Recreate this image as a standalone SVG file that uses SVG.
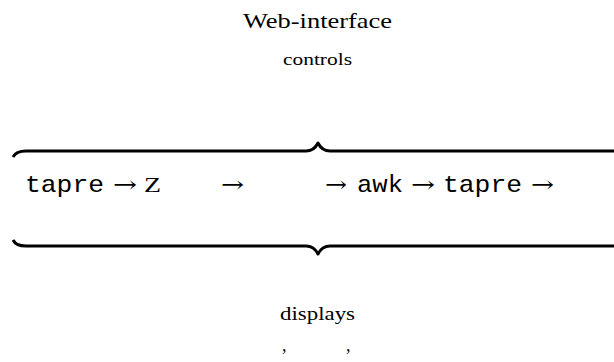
<svg xmlns="http://www.w3.org/2000/svg" width="614" height="362" viewBox="0 0 614 362">
<style>
.serif{font-family:"Liberation Serif","DejaVu Serif",serif;fill:#000}
.mono{font-family:"Liberation Mono","DejaVu Sans Mono",monospace;font-size:24px;fill:#000}
.arr{font-family:"DejaVu Serif","Liberation Serif",serif;font-size:22px;fill:#000}
.brace{fill:none;stroke:#000;stroke-width:3;stroke-linecap:butt;stroke-linejoin:round}
</style>
<rect width="614" height="362" fill="#fff"/>
<g id="title">
<text class="serif" x="317.5" y="28" font-size="22" text-anchor="middle" textLength="149" lengthAdjust="spacingAndGlyphs">Web-interface</text>
<text class="serif" x="317.5" y="65" font-size="16" text-anchor="middle" textLength="69" lengthAdjust="spacingAndGlyphs">controls</text>
</g>
<g id="braces">
<path class="brace" d="M13 157 Q16 151 26 151 L306 151 Q314 151 318 143 Q322 151 330 151 L620 151"/>
<path class="brace" d="M13 240 Q16 246 26 246 L306 246 Q314 246 318 254 Q322 246 330 246 L620 246"/>
</g>
<g id="node-tapre1"><text class="mono" x="25" y="192" textLength="79" lengthAdjust="spacingAndGlyphs">tapre</text></g>
<g id="node-Z"><text class="serif" x="144" y="192" font-size="21" textLength="17" lengthAdjust="spacingAndGlyphs">Z</text></g>
<g id="node-awk"><text class="mono" x="357" y="192" textLength="46" lengthAdjust="spacingAndGlyphs">awk</text></g>
<g id="node-tapre2"><text class="mono" x="443" y="192" textLength="79" lengthAdjust="spacingAndGlyphs">tapre</text></g>
<g id="connectors">
<text class="arr" x="113" y="192" textLength="24" lengthAdjust="spacingAndGlyphs">→</text>
<text class="arr" x="221" y="192" textLength="23" lengthAdjust="spacingAndGlyphs">→</text>
<text class="arr" x="325" y="192" textLength="22" lengthAdjust="spacingAndGlyphs">→</text>
<text class="arr" x="411" y="192" textLength="24" lengthAdjust="spacingAndGlyphs">→</text>
<text class="arr" x="531" y="192" textLength="23" lengthAdjust="spacingAndGlyphs">→</text>
</g>
<g id="bottom">
<text class="serif" x="317.5" y="320" font-size="18" text-anchor="middle" textLength="75" lengthAdjust="spacingAndGlyphs">displays</text>
<text class="serif" x="282" y="351" font-size="18">,</text>
<text class="serif" x="346" y="351" font-size="18">,</text>
</g>
</svg>
